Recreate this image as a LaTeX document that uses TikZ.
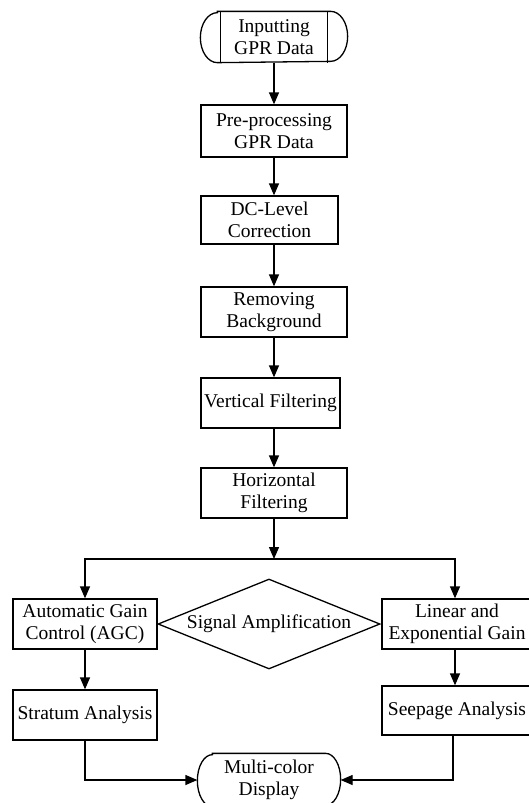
\documentclass[tikz,border=0pt]{standalone}
\usepackage{fontspec}
\setmainfont{Liberation Serif}
\usetikzlibrary{arrows.meta,shapes.geometric,calc}
\begin{document}
\begin{tikzpicture}[x=1pt,y=1pt,
  every node/.style={font=\fontsize{19.5}{22}\selectfont, align=center, inner sep=0pt, line width=1.3pt},
  box/.style={draw, rectangle, minimum width=146pt, minimum height=50pt},
  termnode/.style={rectangle, draw=none},
  arr/.style={line width=1.3pt, -{Triangle[length=12pt,width=10pt]}},
  ln/.style={line width=1.3pt}]
\useasboundingbox (0,0) rectangle (529,-803);
\fill[white] (0,0) rectangle (529,-803);
% nodes
\node[termnode, minimum width=146pt, minimum height=50pt] (inp) at (274,-37) {Inputting\\GPR Data};
\node[box, minimum height=52pt] (pre) at (274,-131) {Pre-processing\\GPR Data};
\node[box, minimum width=137pt, minimum height=48pt] (dc) at (269.5,-220) {DC-Level\\Correction};
\node[box] (rb) at (274,-312) {Removing\\Background};
\node[box, minimum width=139pt] (vf) at (270.5,-403) {Vertical Filtering};
\node[box] (hf) at (274,-493) {Horizontal\\Filtering};
\coordinate (split) at (274,-559);
\node[box, minimum width=144pt] (agc) at (85,-624) {Automatic Gain\\Control (AGC)};
\node[draw, diamond, aspect=2.47, minimum width=222pt, minimum height=90pt] (sig) at (269,-624) {Signal Amplification};
\node[box, minimum width=150pt] (lin) at (457,-624) {Linear and\\Exponential Gain};
\node[box, minimum width=150pt, minimum height=49pt] (seep) at (457,-710.5) {Seepage Analysis};
\node[box, minimum width=144pt] (str) at (85,-715) {Stratum Analysis};
\node[termnode, minimum width=142pt, minimum height=52pt] (mc) at (269,-780) {Multi-color\\Display};
% terminator outlines
\draw[ln] ([xshift=17pt]inp.north west) -- ([xshift=-17pt]inp.north east)
  arc[start angle=90, end angle=-90, x radius=17pt, y radius=25pt]
  -- ([xshift=17pt]inp.south west)
  arc[start angle=270, end angle=90, x radius=17pt, y radius=25pt] -- cycle;
\draw[ln] ([xshift=20pt]inp.north west) -- ([xshift=20pt]inp.south west);
\draw[ln] ([xshift=-20pt]inp.north east) -- ([xshift=-20pt]inp.south east);
\draw[ln] ([xshift=15pt]mc.north west) -- ([xshift=-15pt]mc.north east)
  arc[start angle=90, end angle=-90, x radius=15pt, y radius=26pt]
  -- ([xshift=15pt]mc.south west)
  arc[start angle=270, end angle=90, x radius=15pt, y radius=26pt] -- cycle;
% connectors
\draw[arr] (inp.south) -- (pre.north);
\draw[arr] (pre.south) -- (pre.south |- dc.north);
\draw[arr] (pre.south |- dc.south) -- (rb.north);
\draw[arr] (rb.south) -- (rb.south |- vf.north);
\draw[arr] (rb.south |- vf.south) -- (hf.north);
\draw[arr] (hf.south) -- (split);
\draw[arr] (split) -| ([xshift=0pt]agc.north);
\draw[arr] (split) -| ([xshift=-2pt]lin.north);
\draw[arr] (agc.south) -- (str.north);
\draw[arr] ([xshift=-2pt]lin.south) -- ([xshift=-2pt]seep.north);
\draw[arr] (str.south) |- (mc.west);
\draw[arr] ([xshift=-4pt]seep.south) |- (mc.east);
\end{tikzpicture}
\end{document}
